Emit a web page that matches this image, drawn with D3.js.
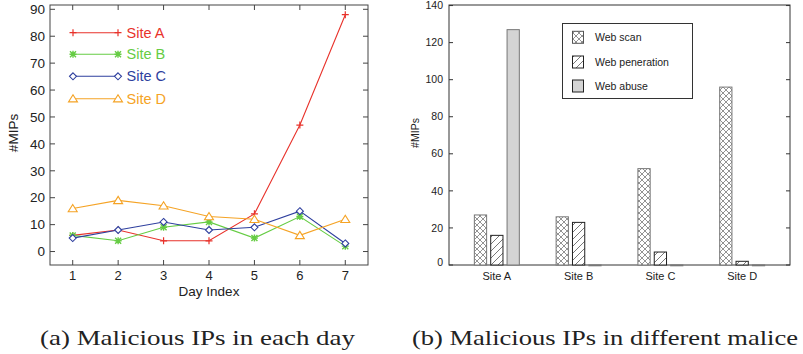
<!DOCTYPE html>
<html>
<head>
<meta charset="utf-8">
<script src="https://cdn.jsdelivr.net/npm/d3@7"></script>
<style>
  body { margin: 0; background: #fff; }
  svg { display: block; }
  text { font-family: "Liberation Sans", Arial, sans-serif; }
</style>
</head>
<body>
<div id="chart"></div>
<script>
// Left chart data: malicious IPs per day
const days = [1, 2, 3, 4, 5, 6, 7];
const siteA = [6, 8, 4, 4, 14, 47, 88];
const siteB = [6, 4, 9, 11, 5, 13, 2];
const siteC = [5, 8, 11, 8, 9, 15, 3];
const siteD = [16, 19, 17, 13, 12, 6, 12];
const dayTicks = [1, 2, 3, 4, 5, 6, 7];
const mipTicks = [0, 10, 20, 30, 40, 50, 60, 70, 80, 90];

// Right chart data: malicious IPs by type
const sites = ["Site A", "Site B", "Site C", "Site D"];
const webScan = [27, 26, 52, 96];
const webPeneration = [16, 23, 7, 2];
const webAbuse = [127, 0, 0, 0];
const barTicks = [0, 20, 40, 60, 80, 100, 120, 140];

const width = 803;
const height = 354;

const svg = d3.select("#chart").append("svg")
  .attr("width", width)
  .attr("height", height);

const defs = svg.append("defs");

// crosshatch for web scan
const cross = defs.append("pattern")
  .attr("id", "cross")
  .attr("patternUnits", "userSpaceOnUse")
  .attr("width", 6).attr("height", 6);
cross.append("rect").attr("width", 6).attr("height", 6).attr("fill", "#fff");
cross.append("path")
  .attr("d", "M0,0L6,6M6,0L0,6M-1,5L1,7M5,-1L7,1M-1,1L1,-1M5,7L7,5")
  .attr("stroke", "#777").attr("stroke-width", 0.8);

// diagonal hatch for web peneration
const diag = defs.append("pattern")
  .attr("id", "diag")
  .attr("patternUnits", "userSpaceOnUse")
  .attr("width", 7).attr("height", 7);
diag.append("rect").attr("width", 7).attr("height", 7).attr("fill", "#fff");
diag.append("path")
  .attr("d", "M0,7L7,0M-2,2L2,-2M5,9L9,5")
  .attr("stroke", "#555").attr("stroke-width", 0.8);

// ---------------- Left: line chart ----------------
const L = { left: 50, right: 368, top: 5, bottom: 265 };

const x = d3.scaleLinear().domain([0.5, 7.5]).range([L.left, L.right]);
const y = d3.scaleLinear().domain([-5, 91.6]).range([L.bottom, L.top]);

const gL = svg.append("g");

gL.append("rect")
  .attr("x", L.left).attr("y", L.top)
  .attr("width", L.right - L.left).attr("height", L.bottom - L.top)
  .attr("fill", "none").attr("stroke", "#444").attr("stroke-width", 1);

// inward ticks on all four sides
const tickLen = 5;
gL.append("g").selectAll("line").data(mipTicks).join("line")
  .attr("x1", L.left).attr("x2", L.left + tickLen)
  .attr("y1", d => y(d)).attr("y2", d => y(d))
  .attr("stroke", "#444");
gL.append("g").selectAll("line").data(mipTicks).join("line")
  .attr("x1", L.right).attr("x2", L.right - tickLen)
  .attr("y1", d => y(d)).attr("y2", d => y(d))
  .attr("stroke", "#444");
gL.append("g").selectAll("line").data(dayTicks).join("line")
  .attr("x1", d => x(d)).attr("x2", d => x(d))
  .attr("y1", L.bottom).attr("y2", L.bottom - tickLen)
  .attr("stroke", "#444");
gL.append("g").selectAll("line").data(dayTicks).join("line")
  .attr("x1", d => x(d)).attr("x2", d => x(d))
  .attr("y1", L.top).attr("y2", L.top + tickLen)
  .attr("stroke", "#444");

gL.append("g").selectAll("text").data(mipTicks).join("text")
  .attr("x", L.left - 5).attr("y", d => y(d))
  .attr("dy", "0.35em").attr("text-anchor", "end")
  .attr("font-size", 13.5).attr("fill", "#222")
  .text(d => d);
gL.append("g").selectAll("text").data(dayTicks).join("text")
  .attr("x", d => x(d)).attr("y", L.bottom + 15)
  .attr("text-anchor", "middle")
  .attr("font-size", 13).attr("fill", "#222")
  .text(d => d);

gL.append("text")
  .attr("x", (L.left + L.right) / 2).attr("y", 296)
  .attr("text-anchor", "middle").attr("font-size", 13.5).attr("fill", "#222")
  .text("Day Index");
gL.append("text")
  .attr("transform", "translate(18,133) rotate(-90)")
  .attr("text-anchor", "middle").attr("font-size", 13.5).attr("fill", "#222")
  .text("#MIPs");

const series = [
  { name: "Site A", values: siteA, color: "#e8322b", marker: "plus" },
  { name: "Site B", values: siteB, color: "#66cc44", marker: "star" },
  { name: "Site C", values: siteC, color: "#2e3f9e", marker: "diamond" },
  { name: "Site D", values: siteD, color: "#f5a325", marker: "triangle" }
];

function drawMarker(g, type, cx, cy, color) {
  if (type === "plus") {
    g.append("path").attr("d", `M${cx - 3.5},${cy}H${cx + 3.5}M${cx},${cy - 3.5}V${cy + 3.5}`)
      .attr("stroke", color).attr("stroke-width", 1.2);
  } else if (type === "star") {
    g.append("path")
      .attr("d", `M${cx - 3.5},${cy}H${cx + 3.5}M${cx},${cy - 3.5}V${cy + 3.5}M${cx - 3},${cy - 3}L${cx + 3},${cy + 3}M${cx - 3},${cy + 3}L${cx + 3},${cy - 3}`)
      .attr("stroke", color).attr("stroke-width", 1.4);
  } else if (type === "diamond") {
    g.append("path").attr("d", `M${cx},${cy - 3.5}L${cx + 3.5},${cy}L${cx},${cy + 3.5}L${cx - 3.5},${cy}Z`)
      .attr("fill", "#fff").attr("stroke", color).attr("stroke-width", 1.1);
  } else {
    g.append("path").attr("d", `M${cx},${cy - 4}L${cx + 4.5},${cy + 3.2}L${cx - 4.5},${cy + 3.2}Z`)
      .attr("fill", "#fff").attr("stroke", color).attr("stroke-width", 1.1);
  }
}

const line = d3.line().x((d, i) => x(days[i])).y(d => y(d));

series.forEach(s => {
  const g = gL.append("g");
  g.append("path").datum(s.values)
    .attr("d", line).attr("fill", "none")
    .attr("stroke", s.color).attr("stroke-width", 1.1);
  s.values.forEach((v, i) => drawMarker(g, s.marker, x(days[i]), y(v), s.color));
});

// legend
const legY = [32.7, 54.3, 76.3, 98.7];
series.forEach((s, i) => {
  const g = gL.append("g");
  g.append("line").attr("x1", 73).attr("x2", 118)
    .attr("y1", legY[i]).attr("y2", legY[i])
    .attr("stroke", s.color).attr("stroke-width", 1.1);
  drawMarker(g, s.marker, 73, legY[i], s.color);
  drawMarker(g, s.marker, 118, legY[i], s.color);
  g.append("text").attr("x", 126.5).attr("y", legY[i]).attr("dy", "0.35em")
    .attr("font-size", 14.5).attr("fill", s.color).text(s.name);
});

// ---------------- Right: bar chart ----------------
const R = { left: 449, right: 790, top: 5, bottom: 265 };

const xb = d3.scaleLinear().domain([0.415, 4.585]).range([R.left, R.right]);
const yb = d3.scaleLinear().domain([0, 140.3]).range([R.bottom, R.top]);

const gR = svg.append("g");

gR.append("rect")
  .attr("x", R.left).attr("y", R.top)
  .attr("width", R.right - R.left).attr("height", R.bottom - R.top)
  .attr("fill", "none").attr("stroke", "#333").attr("stroke-width", 1);

gR.append("g").selectAll("line").data(barTicks).join("line")
  .attr("x1", R.left).attr("x2", R.left + 4)
  .attr("y1", d => yb(d)).attr("y2", d => yb(d)).attr("stroke", "#333");
gR.append("g").selectAll("line").data(barTicks).join("line")
  .attr("x1", R.right).attr("x2", R.right - 4)
  .attr("y1", d => yb(d)).attr("y2", d => yb(d)).attr("stroke", "#333");

gR.append("g").selectAll("text").data(barTicks).join("text")
  .attr("x", R.left - 6).attr("y", d => d === 0 ? yb(d) - 3 : yb(d))
  .attr("dy", "0.35em").attr("text-anchor", "end")
  .attr("font-size", 10.5).attr("fill", "#222")
  .text(d => d);

gR.append("g").selectAll("text").data(sites).join("text")
  .attr("x", (d, i) => xb(i + 1)).attr("y", R.bottom + 15)
  .attr("text-anchor", "middle").attr("font-size", 11).attr("fill", "#222")
  .text(d => d);

gR.append("text")
  .attr("transform", "translate(419,133) rotate(-90)")
  .attr("text-anchor", "middle").attr("font-size", 10.5).attr("fill", "#222")
  .text("#MIPs");

const barSeries = [
  { name: "Web scan", values: webScan, fill: "url(#cross)", stroke: "#777", offset: -0.2 },
  { name: "Web peneration", values: webPeneration, fill: "url(#diag)", stroke: "#222", offset: 0 },
  { name: "Web abuse", values: webAbuse, fill: "#d4d4d4", stroke: "#777", offset: 0.2 }
];
const barW = 0.15;

barSeries.forEach(s => {
  gR.append("g").selectAll("rect").data(s.values).join("rect")
    .attr("x", (d, i) => xb(i + 1 + s.offset - barW / 2))
    .attr("width", xb(barW) - xb(0))
    .attr("y", d => yb(d))
    .attr("height", d => Math.max(yb(0) - yb(d), 0.8))
    .attr("fill", s.fill).attr("stroke", s.stroke).attr("stroke-width", 1);
});

// legend box
const lg = gR.append("g");
lg.append("rect").attr("x", 562.5).attr("y", 23.5).attr("width", 130).attr("height", 75)
  .attr("fill", "#fff").attr("stroke", "#333").attr("stroke-width", 1);
const lgY = [37.3, 62, 86];
barSeries.forEach((s, i) => {
  lg.append("rect").attr("x", 572.5).attr("y", lgY[i] - 6).attr("width", 11).attr("height", 12)
    .attr("fill", s.fill).attr("stroke", i === 0 ? "#555" : "#222").attr("stroke-width", 1);
  lg.append("text").attr("x", 595).attr("y", lgY[i]).attr("dy", "0.35em")
    .attr("font-size", 10.5).attr("fill", "#222").text(s.name);
});

// captions
svg.append("text")
  .attr("x", 40).attr("y", 345)
  .attr("font-size", 21).attr("fill", "#222")
  .attr("textLength", 315).attr("lengthAdjust", "spacingAndGlyphs")
  .style("font-family", "'Liberation Serif', serif")
  .text("(a) Malicious IPs in each day");
svg.append("text")
  .attr("x", 412).attr("y", 345)
  .attr("font-size", 21).attr("fill", "#222")
  .attr("textLength", 386).attr("lengthAdjust", "spacingAndGlyphs")
  .style("font-family", "'Liberation Serif', serif")
  .text("(b) Malicious IPs in different malice");
</script>
</body>
</html>
